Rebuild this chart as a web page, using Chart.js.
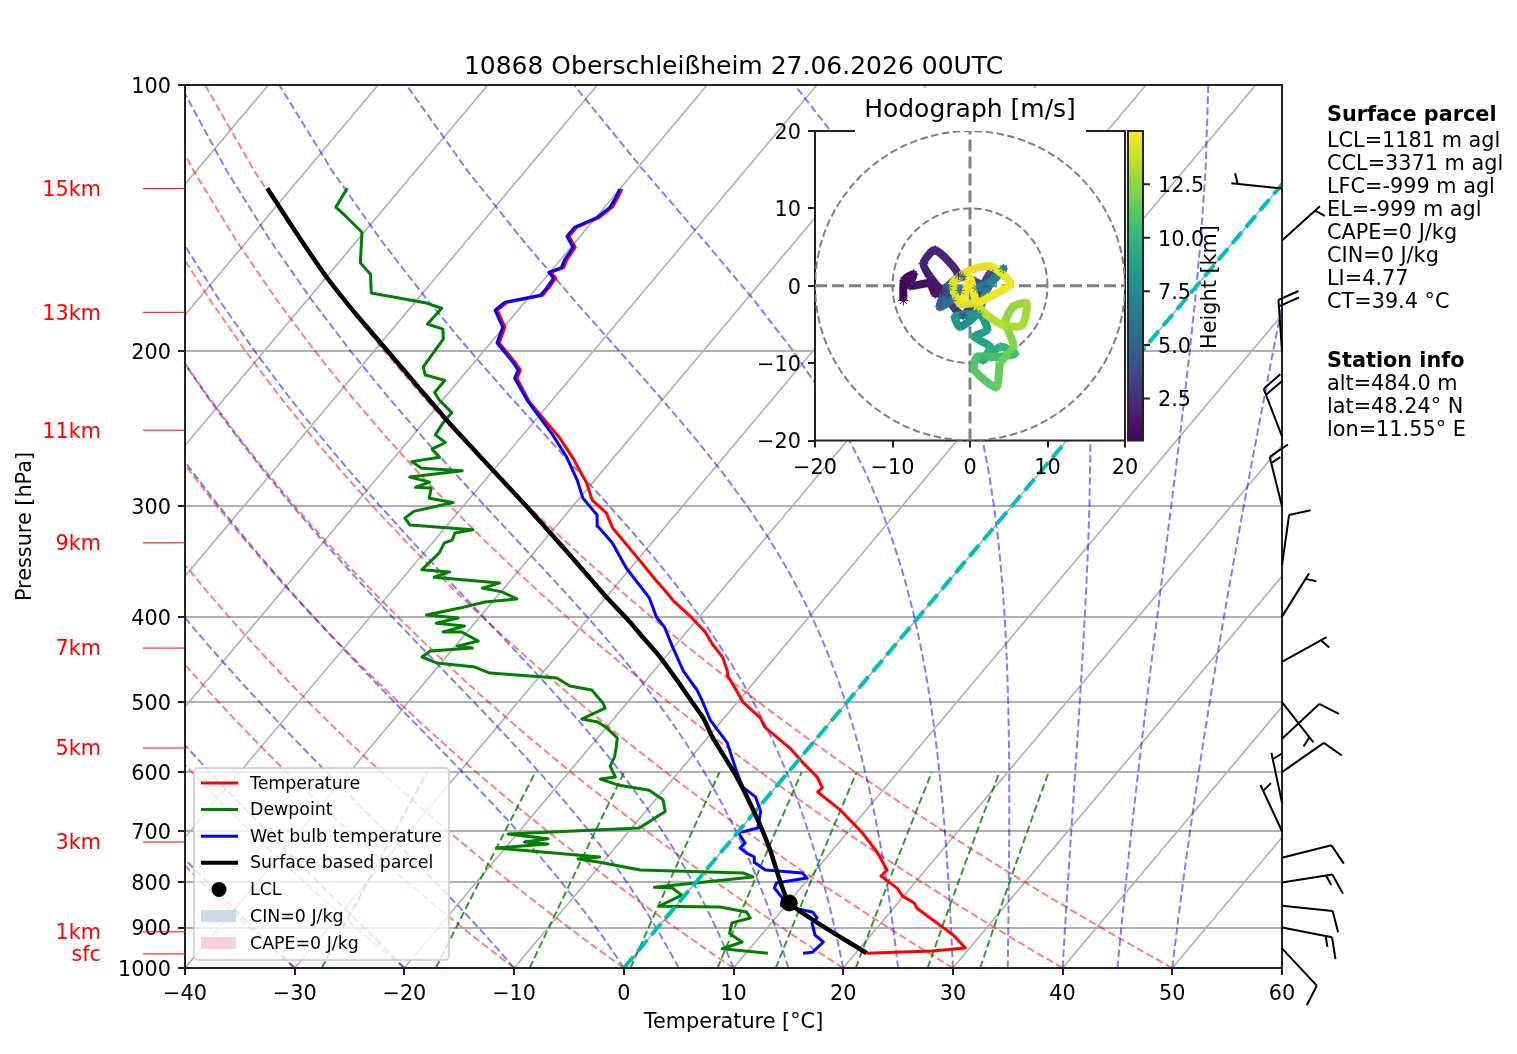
<!DOCTYPE html>
<html>
<head>
<meta charset="utf-8">
<title>Skew-T 10868</title>
<script src="https://cdn.jsdelivr.net/npm/chart.js@4/dist/chart.umd.min.js"></script>
<style>
  body { margin: 0; background: #fff; }
  canvas { position: absolute; display: block; }
  #skewt { left: 0; top: 0; }
  #hodo { left: 750px; top: 85px; }
</style>
</head>
<body>
<canvas id="skewt" width="1517" height="1054"></canvas>
<canvas id="hodo" width="485" height="401"></canvas>
<script>
// Sounding: pressure in hPa, temperature in deg C
const tempP = [962,956.7,949,917.5,882.4,855,844,829,812,786.7,774.5,739,703,662,632,625,607.7,584.5,563.5,533.5,521,499.8,481.9,465.8,462,444.5,430.8,416.4,399.4,385,368.4,365.5,345.2,331.9,317.5,305.4,295.2,282.4,266,251.1,228.7,214.8,210.3,206,196,188,179.9,176.2,173,169.5,165.5,163,161,158,152.7,148.4,145,141.3,137.5,134.4,131.2];
const tempT = [21,26.8,29.6,27.5,24.5,22.1,21.5,19.9,18.8,16.4,16.5,14.2,11.4,7.6,4.2,4.3,3,0.5,-1.7,-5.6,-6.7,-9.5,-11.3,-13,-13.2,-14.8,-16.6,-18.3,-20.9,-23.4,-26,-26.5,-29.8,-32.1,-34.7,-36.4,-38.7,-40.5,-43.4,-46.4,-51.9,-54.9,-55.2,-56.3,-59.2,-59.9,-61.9,-61.6,-58.9,-58.9,-59,-59.9,-59.1,-59.4,-59.6,-61,-61,-59.7,-59.3,-59.5,-59.8];

const wetP = [962,960,934.4,917.5,889,877.8,864,850,833,811.7,801,790.8,780.6,774.5,760,748.7,741,731.3,722,703,694.2,665,640,624,597,556,523.8,497.2,484.4,461,434.2,411,400.4,381,352.4,330,316,307,293.7,280.2,264,249,227.4,214.8,210.3,206,196,188,179.9,176.2,173,169.5,165.5,163,161,158,152.7,148.4,145,141.3,137.5,134.4,131.2];
const wetT = [15.2,16,16.2,14.9,13.7,13.8,12.9,9.6,9.1,7.6,7.4,9.8,9,5.4,3.9,3.4,2.4,1.4,1.5,0.1,1.5,0.5,-1.1,-3,-4.9,-7.8,-11.1,-13.4,-14.6,-17.3,-20,-22.4,-23.9,-26,-30.4,-33.6,-36.2,-37.1,-39.7,-41.6,-44.3,-47.3,-52.3,-55.1,-55.4,-56.5,-59.4,-60.1,-62.1,-61.8,-59.1,-59.1,-59.2,-60.1,-59.3,-59.6,-59.8,-61.2,-61.2,-59.9,-59.5,-59.7,-60];

const dewP = [962,951,934.4,914,889,877.8,864,853,851,827,811.7,810,788.7,780.6,774.5,759,752.7,748.7,731.3,723.7,720,714,705,694.2,665,645,629,621,611,607.7,590.6,577,562,549,534.9,526.6,522.5,507.7,501,484.4,479.4,469.5,463.4,456.2,451.4,444.5,437.6,434.2,432,426.3,416.4,416.4,410,406.9,401.5,398.4,391.2,385,382,375,371.3,366.5,361,356,354,339,330,327.6,321.7,319,315,309.4,304,297,293.7,286.1,285.5,281.7,278,273.4,271.6,267,264,258.5,254,249,241.9,235,227.4,223,216,213,208.6,194,189,186.5,179,176.6,172,163.8,159,146.8,140.8,137.5,130.9];
const dewT = [12,7.5,8.8,7,6.4,7.7,6.9,4.1,-1.5,-0.3,-1.7,-3.4,4.8,3.6,-6,-10.3,-12.5,-10.7,-20.8,-16.4,-18.7,-16.8,-20.8,-9.3,-8.2,-9.3,-11.3,-14.4,-16.6,-15.4,-16.7,-17,-17.6,-18.2,-19.9,-21.2,-22.9,-21.6,-22.2,-24.2,-26.5,-28.3,-34.8,-36.6,-40.4,-42.2,-41.9,-38.3,-39.8,-38.3,-40.5,-42.2,-40.7,-43.5,-41.9,-45,-42.5,-40.7,-38,-39.9,-42,-40.8,-47.2,-46.2,-48.9,-48.6,-48.9,-48.4,-48.7,-47.3,-53.4,-54.4,-54.1,-51.2,-53.7,-54.3,-55.8,-54.9,-57.1,-52.8,-56.7,-58.1,-55.9,-57.2,-56.5,-58,-58.2,-58.2,-60.3,-61.3,-61.3,-63.5,-64.3,-64.6,-65.4,-67.2,-67.1,-68.9,-74.7,-76.2,-78,-80.2,-82.9,-84.5,-84.9];

const parcelP = [962,844,735,680,608,547.6,521,494.6,472,444.5,421.3,405.8,380,338,300.6,268,239.6,200,182.3,165,148,130.9];
const parcelT = [21,10.1,4.3,0.9,-4.3,-9.6,-11.9,-14.7,-17.2,-20.5,-23.7,-25.9,-30,-37,-44.1,-51.2,-58.1,-68.8,-74.3,-80,-85.8,-92.2];

const lclP = [844];
const lclT = [10.1];

// Background line families
const isotherms = [-100,-90,-80,-70,-60,-50,-40,-30,-20,-10,0,10,20,30,40,50,60];
const dryStart = [-30,-20,-10,0,10,20,30,40,50];
const moistStart = [-50,-40,-30,-20,-10,0,5,10,15,20,25,30,35,40,45,50];
const mixRatios = [0.4,1,2,4,7,10,16,24,32];

// Wind at pressure levels
const windP = [131,150,200,250,300,350,400,450,500,550,600,650,700,750,800,850,900,950];
const windDir = [276,48,356,339,346,8,32,61,142,47,55,348,335,76,81,96,101,137];
const windSpd = [5,5,20,20,15,10,5,5,5,10,10,5,5,10,15,10,15,10];

// Height marks on the left
const kmNames = ["15km","13km","11km","9km","7km","5km","3km","1km","sfc"];
const kmP = [131,180.9,246,330,434.2,563.5,720,910,964];

const xTicks = [-40,-30,-20,-10,0,10,20,30,40,50,60];
const yTicks = [100,200,300,400,500,600,700,800,900,1000];

// Hodograph: u, v in m/s and height in km
const hodoU = [-8.6,-8.5,-7.3,-7.7,-5.2,-4.5,-3.7,-5.2,-6,-4.5,-1.5,-3.2,-0.9,2.6,2.2,-0.9,-2.8,-3.9,-2.4,-1.3,0.9,3,4.3,2.6,0.9,-1.3,-1.9,1.3,2.2,0.6,2.6,1.7,3.9,5.8,3.4,0.9,0.6,3.4,3.9,5.6,4.9,4.5,5.6,7.3,6.7,4.3,2.2,0.6,-1.3,-2.2,-0.4,2.6,5.2,2.6,0.9,0,-0.9];
const hodoV = [-1.9,0.7,1.5,0,0.3,-1,-0.8,1.2,2.9,4.6,1.4,-0.6,-3.8,1.6,-0.1,1.2,-0.1,-2.7,-1.9,-0.6,-0.3,0.7,2.2,0.3,-3.6,-5.3,-4,-3.8,-5.7,-6.6,-7.9,-9.6,-7.9,-8.8,-9.2,-9.2,-10.9,-13.1,-10,-7.9,-5.7,-4.7,-2.7,-2.3,-5.1,-5.1,-3.8,-2.3,-2.3,0.3,1.8,2.5,0.3,-1.4,-2.1,0.9,-1.9];
const hodoH = [0.6,0.8,1,1.1,1.3,1.4,1.5,1.7,1.9,2.1,2.5,2.8,3.3,3.7,4.2,4.6,5,5.4,5.8,6,6.3,6.8,7.2,7.4,7.7,8,8.2,8.5,8.7,8.9,9.2,9.5,10,10.4,10.7,10.9,11.2,11.5,11.8,12.3,12.5,12.6,12.8,13,13.2,13.4,13.7,14,14.2,14.4,14.5,14.6,14.7,14.8,14.85,14.9,14.95];
const hodoRings = [10,20];
const heightTicks = [2.5,5,7.5,10,12.5];

const parcelLines = ["LCL=1181 m agl","CCL=3371 m agl","LFC=-999 m agl","EL=-999 m agl","CAPE=0 J/kg","CIN=0 J/kg","LI=4.77","CT=39.4 °C"];
const stationLines = ["alt=484.0 m","lat=48.24° N","lon=11.55° E"];

// Skew of the isotherms, deg C per decade of pressure
const skew = 67.6;
const font = "DejaVu Sans";
const tickSize = 20.8;
const legendSize = 17.4;

function skewed(t, p) {
  return { x: t + skew * Math.log10(1000 / p), y: p };
}
function profile(ps, ts) {
  return ps.map((p, i) => skewed(ts[i], p));
}

const levels = [];
for (let p = 1000; p >= 100; p -= 25) levels.push(p);

function dryLine(t0) {
  return levels.map(p => skewed((t0 + 273.15) * Math.pow(p / 1000, 0.2857) - 273.15, p));
}
function moistLine(t0) {
  const lv = 2.49e6;
  let t = t0 + 273.15;
  const pts = [];
  for (let i = 0; i < levels.length; i++) {
    pts.push(skewed(t - 273.15, levels[i]));
    if (i == levels.length - 1) break;
    const dp = (levels[i + 1] - levels[i]) / 10;
    let p = levels[i];
    for (let k = 0; k < 10; k++) {
      const es = 6.112 * Math.exp(17.67 * (t - 273.15) / (t - 29.65));
      const rs = 0.622 * es / (p - es);
      t += dp * (287 * t + lv * rs) / (p * (1005 + lv * lv * rs * 0.622 / (287 * t * t)));
      p += dp;
    }
  }
  return pts;
}
function mixLine(w) {
  const pts = [];
  for (let p = 1000; p >= 600; p -= 50) {
    const e = p * (w / 1000) / (0.622 + w / 1000);
    const l = Math.log(e / 6.112);
    pts.push(skewed(243.5 * l / (17.67 - l), p));
  }
  return pts;
}

const datasets = [];
function bg(data, color, width, dash, order, tension) {
  datasets.push({ data: data, showLine: true, pointRadius: 0, borderColor: color, borderWidth: width, borderDash: dash, borderJoinStyle: "round", order: order, tension: tension || 0, fill: false });
}
isotherms.forEach(t => bg([skewed(t, 1000), skewed(t, 100)], "#b0b0b0", 1.6, [], 60));
dryStart.forEach(t => bg(dryLine(t), "rgba(255,0,0,0.5)", 2, [7.5, 3.5], 50));
moistStart.forEach(t => bg(moistLine(t), "rgba(0,0,255,0.5)", 2, [7.5, 3.5], 49));
mixRatios.forEach(w => bg(mixLine(w), "rgba(0,128,0,0.8)", 2, [7.5, 3.5], 48));
bg(profile(tempP, tempT), "#ff0000", 3, [], 10);
bg(profile(dewP, dewT), "#008000", 3, [], 9);
bg(profile(wetP, wetT), "#0000ff", 3, [], 8);
bg([skewed(0, 1000), skewed(0, 100)], "#00bfbf", 4, [15, 6.5], 7);
bg(profile(parcelP, parcelT), "#000000", 4.5, [], 6, 0.15);
datasets.push({ data: profile(lclP, lclT), pointRadius: 8, pointBackgroundColor: "#000", pointBorderColor: "#000", showLine: false, order: 5 });

function text(ctx, s, x, y, size, color, align, weight) {
  ctx.font = (weight || "normal") + " " + size + "px '" + font + "'";
  ctx.fillStyle = color;
  ctx.textAlign = align || "left";
  ctx.textBaseline = "middle";
  ctx.fillText(s, x, y + 2);
}

function drawBarb(ctx, x0, y0, dir, spd) {
  const len = 51, step = 6.5, full = 22, half = 11;
  const a = dir * Math.PI / 180;
  const dx = Math.sin(a), dy = -Math.cos(a);
  // feathers lean 70 degrees off the staff
  const c = Math.cos(70 * Math.PI / 180), s = Math.sin(70 * Math.PI / 180);
  const fx = dx * c - dy * s, fy = dx * s + dy * c;
  ctx.beginPath();
  ctx.moveTo(x0, y0);
  ctx.lineTo(x0 + dx * len, y0 + dy * len);
  let nFull = Math.floor(spd / 10);
  let nHalf = Math.round((spd - nFull * 10) / 5);
  let d = len;
  if (nFull == 0) d -= step;
  for (let i = 0; i < nFull; i++) {
    ctx.moveTo(x0 + dx * d, y0 + dy * d);
    ctx.lineTo(x0 + dx * d + fx * full, y0 + dy * d + fy * full);
    d -= step;
  }
  if (nHalf) {
    ctx.moveTo(x0 + dx * d, y0 + dy * d);
    ctx.lineTo(x0 + dx * d + fx * half, y0 + dy * d + fy * half);
  }
  ctx.stroke();
}

const skewExtras = {
  id: "skewExtras",
  afterDatasetsDraw(chart) {
    const ctx = chart.ctx, a = chart.chartArea, ys = chart.scales.y;
    ctx.save();
    ctx.strokeStyle = "#222";
    ctx.lineWidth = 2;
    ctx.strokeRect(a.left, a.top, a.right - a.left, a.bottom - a.top);

    // height marks
    kmNames.forEach((n, i) => {
      const y = ys.getPixelForValue(kmP[i]);
      ctx.strokeStyle = "#ff0000";
      ctx.lineWidth = 1;
      ctx.beginPath();
      ctx.moveTo(143, y);
      ctx.lineTo(a.left, y);
      ctx.stroke();
      text(ctx, n, 101, y, tickSize, "#ff0000", "right");
    });

    // wind barbs along the right edge
    ctx.strokeStyle = "#000";
    ctx.lineWidth = 2;
    ctx.lineJoin = "round";
    windP.forEach((p, i) => drawBarb(ctx, a.right, ys.getPixelForValue(p), windDir[i], windSpd[i]));

    // legend
    ctx.fillStyle = "rgba(255,255,255,0.8)";
    ctx.strokeStyle = "rgba(204,204,204,0.8)";
    ctx.lineWidth = 2;
    ctx.beginPath();
    ctx.roundRect(194, 768, 255, 192, 4);
    ctx.fill();
    ctx.stroke();
    const rows = [
      ["Temperature", "#ff0000", 3],
      ["Dewpoint", "#008000", 3],
      ["Wet bulb temperature", "#0000ff", 3],
      ["Surface based parcel", "#000000", 4]
    ];
    rows.forEach((r, i) => {
      const y = 783 + i * 26.6;
      ctx.strokeStyle = r[1];
      ctx.lineWidth = r[2];
      ctx.beginPath();
      ctx.moveTo(201, y);
      ctx.lineTo(238, y);
      ctx.stroke();
      text(ctx, r[0], 250, y - 1, legendSize, "#000");
    });
    ctx.fillStyle = "#000";
    ctx.beginPath();
    ctx.arc(219, 889.5, 7.5, 0, Math.PI * 2);
    ctx.fill();
    text(ctx, "LCL", 250, 888.5, legendSize, "#000");
    ctx.fillStyle = "#c9dcea";
    ctx.fillRect(201, 910, 35, 12);
    text(ctx, "CIN=0 J/kg", 250, 915, legendSize, "#000");
    ctx.fillStyle = "#f6d2d3";
    ctx.fillRect(201, 937, 35, 12);
    text(ctx, "CAPE=0 J/kg", 250, 942, legendSize, "#000");

    // parcel and station text
    text(ctx, "Surface parcel", 1327, 114, tickSize, "#000", "left", "bold");
    parcelLines.forEach((s, i) => text(ctx, s, 1327, 140 + i * 23, tickSize, "#000"));
    text(ctx, "Station info", 1327, 360, tickSize, "#000", "left", "bold");
    stationLines.forEach((s, i) => text(ctx, s, 1327, 383 + i * 23, tickSize, "#000"));
    ctx.restore();
  }
};

new Chart("skewt", {
  type: "scatter",
  data: { datasets: datasets },
  plugins: [skewExtras],
  options: {
    responsive: false,
    animation: false,
    devicePixelRatio: 1,
    layout: { padding: { right: 235 } },
    plugins: {
      legend: { display: false },
      tooltip: { enabled: false },
      title: {
        display: true,
        fullSize: false,
        text: "10868 Oberschleißheim 27.06.2026 00UTC",
        color: "#000",
        font: { family: font, size: 25, weight: "normal", lineHeight: 1.2 },
        padding: { top: 52, bottom: 3 }
      }
    },
    scales: {
      x: {
        type: "linear",
        min: -40,
        max: 60,
        afterBuildTicks: s => { s.ticks = xTicks.map(v => ({ value: v })); },
        afterFit: s => { s.height = 86; },
        grid: { drawOnChartArea: false, tickColor: "#222", tickLength: 7, lineWidth: 2 },
        border: { color: "#222", width: 2 },
        ticks: { color: "#000", font: { family: font, size: tickSize }, padding: 7, maxRotation: 0, autoSkip: false, callback: v => String(v).replace("-", "\u2212") },
        title: { display: true, text: "Temperature [°C]", color: "#000", font: { family: font, size: tickSize, lineHeight: 1.2 }, padding: { top: 0, bottom: 18.5 } }
      },
      y: {
        type: "logarithmic",
        reverse: true,
        min: 100,
        max: 1000,
        afterBuildTicks: s => { s.ticks = yTicks.map(v => ({ value: v })); },
        afterFit: s => { s.width = 185; },
        grid: { color: "#b0b0b0", tickColor: "#222", tickLength: 7, lineWidth: 2 },
        border: { color: "#222", width: 2 },
        ticks: { color: "#000", font: { family: font, size: tickSize }, padding: 7, labelOffset: 2.5, autoSkip: false, callback: v => String(v) },
        title: { display: true, text: "Pressure [hPa]", color: "#000", font: { family: font, size: tickSize, lineHeight: 1.2 }, padding: { top: 13.5, bottom: 0 } }
      }
    }
  }
});

// Inset hodograph
const viridisStops = ["#440154","#482878","#3e4989","#31688e","#26828e","#1f9e89","#35b779","#6ece58","#b5de2b","#fde725"];
const heightMin = 0.54, heightMax = 14.98;

function viridis(h) {
  const f = Math.max(0, Math.min(1, (h - heightMin) / (heightMax - heightMin))) * (viridisStops.length - 1);
  const i = Math.min(Math.floor(f), viridisStops.length - 2);
  const rgb = c => [1, 3, 5].map(k => parseInt(c.substr(k, 2), 16));
  const a = rgb(viridisStops[i]), b = rgb(viridisStops[i + 1]);
  const m = a.map((v, k) => Math.round(v + (b[k] - v) * (f - i)));
  return "rgb(" + m.join(",") + ")";
}

const hodoPts = hodoU.map((u, i) => ({ x: u, y: hodoV[i] }));
const hodoSets = [];
hodoRings.forEach(r => {
  const ring = [];
  for (let d = 0; d <= 360; d += 5) ring.push({ x: r * Math.cos(d * Math.PI / 180), y: r * Math.sin(d * Math.PI / 180) });
  hodoSets.push({ data: ring, showLine: true, pointRadius: 0, borderColor: "#808080", borderWidth: 2, borderDash: [7.5, 3.5], order: 5 });
});
hodoSets.push({ data: [{ x: -20, y: 0 }, { x: 20, y: 0 }], showLine: true, pointRadius: 0, borderColor: "#808080", borderWidth: 3, borderDash: [12, 5], order: 4 });
hodoSets.push({ data: [{ x: 0, y: -20 }, { x: 0, y: 20 }], showLine: true, pointRadius: 0, borderColor: "#808080", borderWidth: 3, borderDash: [12, 5], order: 4 });
hodoSets.push({
  data: hodoPts,
  showLine: true,
  tension: 0.25,
  borderWidth: 8,
  borderJoinStyle: "round",
  pointRadius: 5,
  pointStyle: "star",
  pointBorderWidth: 1,
  pointBorderColor: hodoH.map(viridis),
  pointBackgroundColor: hodoH.map(viridis),
  segment: { borderColor: c => viridis(hodoH[c.p0DataIndex]) },
  order: 1
});

const hodoExtras = {
  id: "hodoExtras",
  beforeDraw(chart) {
    const ctx = chart.ctx, a = chart.chartArea;
    ctx.save();
    ctx.fillStyle = "#fff";
    ctx.fillRect(a.left, a.top, a.right - a.left + 18, a.bottom - a.top);
    ctx.strokeStyle = "#222";
    ctx.lineWidth = 2;
    ctx.strokeRect(a.left, a.top, a.right - a.left, a.bottom - a.top);
    // white box behind the title cuts the top frame
    ctx.fillStyle = "#fff";
    ctx.fillRect(105, 3, 231, 44);
    // colour bar
    const g = ctx.createLinearGradient(0, a.bottom, 0, a.top);
    viridisStops.forEach((c, i) => g.addColorStop(i / (viridisStops.length - 1), c));
    ctx.fillStyle = g;
    ctx.fillRect(a.right + 3, a.top, 15, a.bottom - a.top);
    ctx.strokeRect(a.right + 3, a.top, 15, a.bottom - a.top);
    ctx.beginPath();
    heightTicks.forEach(v => {
      const y = chart.scales.y2.getPixelForValue(v);
      ctx.moveTo(a.right + 18, y);
      ctx.lineTo(a.right + 25, y);
    });
    ctx.stroke();
    ctx.restore();
  },
  afterDraw(chart) {
    const ctx = chart.ctx;
    ctx.save();
    ctx.translate(459, 202);
    ctx.rotate(-Math.PI / 2);
    text(ctx, "Height [km]", 0, 0, tickSize, "#000", "center");
    ctx.restore();
  }
};

const hodoTick = {
  color: "#000",
  font: { family: font, size: tickSize },
  stepSize: 10,
  maxRotation: 0,
  autoSkip: false,
  callback: v => String(v).replace("-", "\u2212")
};

new Chart("hodo", {
  type: "scatter",
  data: { datasets: hodoSets },
  plugins: [hodoExtras],
  options: {
    responsive: false,
    animation: false,
    devicePixelRatio: 1,
    plugins: {
      legend: { display: false },
      tooltip: { enabled: false },
      title: {
        display: true,
        fullSize: false,
        text: "Hodograph [m/s]",
        color: "#000",
        font: { family: font, size: 25, weight: "normal", lineHeight: 1.2 },
        padding: { top: 10, bottom: 6 }
      }
    },
    scales: {
      x: {
        type: "linear",
        min: -20,
        max: 20,
        afterFit: s => { s.height = 34; },
        border: { display: false },
        grid: { drawOnChartArea: false, tickColor: "#222", tickLength: 7, lineWidth: 2 },
        ticks: Object.assign({ padding: 9 }, hodoTick)
      },
      y: {
        type: "linear",
        min: -20,
        max: 20,
        afterFit: s => { s.width = 65; },
        border: { display: false },
        grid: { drawOnChartArea: false, tickColor: "#222", tickLength: 7, lineWidth: 2 },
        ticks: Object.assign({ padding: 7, labelOffset: 2.5 }, hodoTick)
      },
      y2: {
        type: "linear",
        position: "right",
        min: heightMin,
        max: heightMax,
        afterBuildTicks: s => { s.ticks = heightTicks.map(v => ({ value: v })); },
        afterFit: s => { s.width = 110; },
        border: { display: false },
        grid: { display: false, drawTicks: false },
        ticks: { color: "#000", font: { family: font, size: tickSize }, padding: 33, labelOffset: 2.5, autoSkip: false, callback: v => v.toFixed(1) }
      }
    }
  }
});
</script>
</body>
</html>
